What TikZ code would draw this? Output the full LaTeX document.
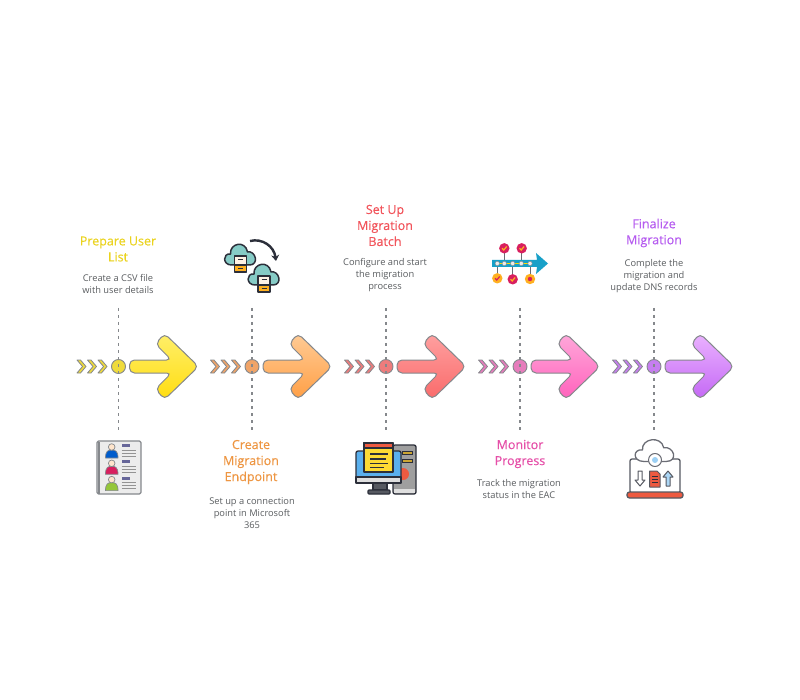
\documentclass[tikz,border=0pt]{standalone}
\usepackage{fontspec}
\setmainfont{Open Sans}
\newfontfamily\titlefont[FakeBold=0.2]{Open Sans}
\usetikzlibrary{arrows.meta}

\definecolor{lineink}{HTML}{85888C}
\definecolor{deskink}{HTML}{5A5D60}
\definecolor{iconink}{HTML}{2C2F3A}
\definecolor{crimson}{HTML}{D81F5E}
\definecolor{amber}{HTML}{FFB020}
\definecolor{teal}{HTML}{86CBC6}
\definecolor{skyblue}{HTML}{5AB0EE}
\definecolor{tomato}{HTML}{EE5A40}
\definecolor{streamblue}{HTML}{18A0C8}
% chevrons and dots
\definecolor{chevA}{HTML}{EFDB3C}
\definecolor{chevB}{HTML}{F0A468}
\definecolor{chevC}{HTML}{EE7C7C}
\definecolor{chevD}{HTML}{E67CBC}
\definecolor{chevE}{HTML}{C67EF0}
% arrow tops and bottoms
\definecolor{hiA}{HTML}{FFEF6A}
\definecolor{loA}{HTML}{FFDD10}
\definecolor{hiB}{HTML}{FFCB95}
\definecolor{loB}{HTML}{FF9F45}
\definecolor{hiC}{HTML}{FFA0A0}
\definecolor{loC}{HTML}{F96A6A}
\definecolor{hiD}{HTML}{FFA8DA}
\definecolor{loD}{HTML}{FF62BC}
\definecolor{hiE}{HTML}{EAB2FF}
\definecolor{loE}{HTML}{C468F5}
% titles
\definecolor{headA}{HTML}{EBD31E}
\definecolor{headB}{HTML}{EE9642}
\definecolor{headC}{HTML}{F2545B}
\definecolor{headD}{HTML}{E64FA8}
\definecolor{headE}{HTML}{B65CF0}

\tikzset{
  steptitle/.style={align=center,font=\titlefont\fontsize{12.5}{16}\selectfont},
  stepdesc/.style={align=center,text=deskink,font=\fontsize{9.3}{12}\selectfont},
  stepdot/.style={circle,draw=lineink,line width=0.9pt,minimum size=14pt,inner sep=0pt},
  stepline/.style={draw=lineink,line width=1.2pt,dash pattern=on 3pt off 4pt},
  icon/.style={draw=iconink,line width=1.3pt,line join=round},
  softicon/.style={draw=lineink,line width=1.1pt,line join=round},
}

% one step: centre x, name
\newcommand{\migstep}[2]{
  \foreach \off in {-37,-26.5,-16}
    \filldraw[draw=lineink,line width=0.8pt,line join=round,fill=chev#2,shift={(#1+\off,366.5)}]
      (-4.5,-6.5) -- (-1,-6.5) -- (4.5,0) -- (-1,6.5) -- (-4.5,6.5) -- (1,0) -- cycle;
  \node[stepdot,fill=chev#2] (dot#2) at (#1,366.5) {};
  \coordinate (top#2) at (#1,308);
  \coordinate (bot#2) at (#1,430);
  \draw[stepline] (top#2) -- (bot#2);
  \path[draw=lineink,line width=1pt,top color=hi#2,bottom color=lo#2,rounded corners=5pt,shift={(#1,0)}]
    (11,360) -- (53,360) -- (37,344) -- (46,333.5) -- (80,366.5) -- (46,399.5) -- (37,389) -- (53,373) -- (11,373) -- cycle;
}

% cloud outline round a local origin
\newcommand{\cloudpath}{
  (-9,9) .. controls (-18,9) and (-18,-3) .. (-10,-2) .. controls (-11,-13) and (5,-16) .. (7,-4) .. controls (15,-6) and (19,9) .. (9,9) -- cycle
}

% check mark in a small circle
\newcommand{\checkdot}[4]{
  \draw[iconink!70,line width=0.8pt] (#1,263.5) -- (#1,#2);
  \fill[#3] (#1,#2) circle (5.2pt);
  \draw[#4,line width=1.2pt] (#1-2.2,#2) -- (#1-0.5,#2+1.7) -- (#1+2.4,#2-1.8);
}

\begin{document}
\begin{tikzpicture}[x=1pt,y=-1pt]
\useasboundingbox[fill=white] (0,0) rectangle (800,700);

% Drawing steps
\migstep{118.5}{A}
\migstep{252}{B}
\migstep{386}{C}
\migstep{520}{D}
\migstep{654}{E}

% Titles and descriptions
\node[steptitle,text=headA] (titleA) at (118,249) {Prepare User\\List};
\node[stepdesc] (descA) at (118,284) {Create a CSV file\\with user details};
\node[steptitle,text=headB] (titleB) at (251,462) {Create\\Migration\\Endpoint};
\node[stepdesc] (descB) at (252,513) {Set up a connection\\point in Microsoft\\365};
\node[steptitle,text=headC] (titleC) at (385,225.5) {Set Up\\Migration\\Batch};
\node[stepdesc] (descC) at (385,275.5) {Configure and start\\the migration\\process};
\node[steptitle,text=headD] (titleD) at (520,454) {Monitor\\Progress};
\node[stepdesc] (descD) at (519,489) {Track the migration\\status in the EAC};
\node[steptitle,text=headE] (titleE) at (654,233) {Finalize\\Migration};
\node[stepdesc] (descE) at (654,276.5) {Complete the\\migration and\\update DNS records};

% Icon: user list
\filldraw[softicon,fill=gray!15,rounded corners=1.5pt] (97,441) rectangle (141,494);
\fill[lineink] (97.5,442) rectangle (100,493.5);
\foreach \row/\tint in {0/blue!55!cyan!80!black,16.3/crimson,32.6/green!35!yellow!55!gray} {
  \filldraw[softicon,line width=0.7pt,fill=\tint] (105.5,458+\row) .. controls (105.5,451+\row) and (108,450+\row) .. (111.7,450+\row) .. controls (115.5,450+\row) and (118,451+\row) .. (118,458+\row) -- cycle;
  \filldraw[softicon,line width=0.7pt,fill=orange!20] (111.7,447+\row) circle (3.3pt);
  \fill[blue!20!gray] (121.5,444+\row) rectangle (130,447+\row);
  \foreach \dy in {450,453,456}
    \draw[gray!85,line width=1pt] (121.5,\dy+\row) -- (136,\dy+\row);
}

% Icon: clouds
\foreach \cx/\cy in {240.5/256,264/276} {
  \begin{scope}[shift={(\cx,\cy)}]
    \filldraw[icon,line width=1.5pt,fill=teal] \cloudpath;
    \filldraw[icon,fill=orange!10] (-6,0) rectangle (6,9);
    \filldraw[icon,fill=amber] (-6,9) rectangle (6,16);
    \draw[iconink,line width=1.2pt] (-2.5,3.5) -- (2.5,3.5);
    \draw[iconink,line width=1.2pt] (-2.5,12.5) -- (2.5,12.5);
  \end{scope}
}
\draw[iconink,line width=2.4pt,-{Stealth[length=6pt,width=8pt]}] (250,241) .. controls (262,238) and (274,246) .. (276,261);

% Icon: desktop
\filldraw[icon,fill=gray!75,rounded corners=2pt] (393,445) rectangle (416,494);
\fill[gray!25] (394,488.5) rectangle (415,492.5);
\filldraw[draw=iconink,line width=0.5pt,fill=orange!50!yellow!60!gray] (402,451.5) rectangle (412,454);
\filldraw[draw=iconink,line width=0.5pt,fill=orange!50!yellow!60!gray] (402,459.5) rectangle (412,462);
\fill[tomato] (403,474) circle (6pt);
\filldraw[icon,fill=iconink!80] (373,483) rectangle (387,490);
\filldraw[icon,fill=iconink!80,rounded corners=1pt] (368,490) rectangle (390,494);
\filldraw[icon,fill=skyblue,rounded corners=2pt] (356,451) rectangle (401,483);
\filldraw[icon,fill=gray!25] (356,477) rectangle (401,483);
\filldraw[icon,fill=yellow!70!orange!80!white] (364,443) rectangle (393,472);
\filldraw[icon,fill=tomato] (364,443) rectangle (393,448);
\foreach \ly/\lx in {454/388,459/386,463.5/388,467.5/384}
  \draw[iconink,line width=1.2pt] (370,\ly) -- (\lx,\ly);

% Icon: timeline
\checkdot{504.3}{248.3}{crimson}{amber}
\checkdot{521.7}{248.3}{crimson}{amber}
\checkdot{497.3}{278.3}{amber}{crimson}
\checkdot{512.7}{279.3}{crimson}{amber}
\draw[iconink!70,line width=0.8pt] (530,263.5) -- (530,279);
\fill[amber] (530,279) circle (5.2pt);
\fill[crimson] (530,279) circle (2.2pt);
\fill[streamblue] (492,260) -- (537,260) -- (536,253) -- (548,263.5) -- (536,274) -- (537,267) -- (492,267) -- cycle;
\draw[yellow!80!orange,line width=1pt] (497,263.5) -- (530,263.5);
\foreach \bx in {497.3,504.3,512.7,521.3,530}
  \filldraw[draw=lineink,line width=0.4pt,fill=gray!15] (\bx,263.5) circle (2.2pt);

% Icon: laptop
\filldraw[icon,fill=white,draw=iconink!80,rounded corners=2pt] (630,459) rectangle (680,493);
\filldraw[icon,fill=white,draw=iconink!70,shift={(655,452)},xscale=1.25,yscale=1.05] \cloudpath;
\filldraw[icon,fill=tomato,draw=iconink!80,rounded corners=2.5pt] (627,492) rectangle (683,498);
\filldraw[icon,fill=white,draw=iconink!70,line width=1pt] (655,460) circle (6.5pt);
\fill[skyblue!60] (655,460) circle (3pt);
\filldraw[icon,line width=1pt,fill=white,draw=iconink!80] (638,471) -- (642,471) -- (642,480) -- (645,480) -- (640,486) -- (635,480) -- (638,480) -- cycle;
\filldraw[icon,line width=1pt,fill=tomato,draw=iconink!80] (649.5,471) -- (657,471) -- (660,474) -- (660,487) -- (649.5,487) -- cycle;
\foreach \ly in {476,479,482}
  \draw[iconink,line width=0.7pt] (652,\ly) -- (657.5,\ly);
\filldraw[icon,line width=1pt,fill=skyblue!50,draw=iconink!80] (666,486) -- (670,486) -- (670,477) -- (673,477) -- (668,471) -- (663,477) -- (666,477) -- cycle;

\end{tikzpicture}
\end{document}
